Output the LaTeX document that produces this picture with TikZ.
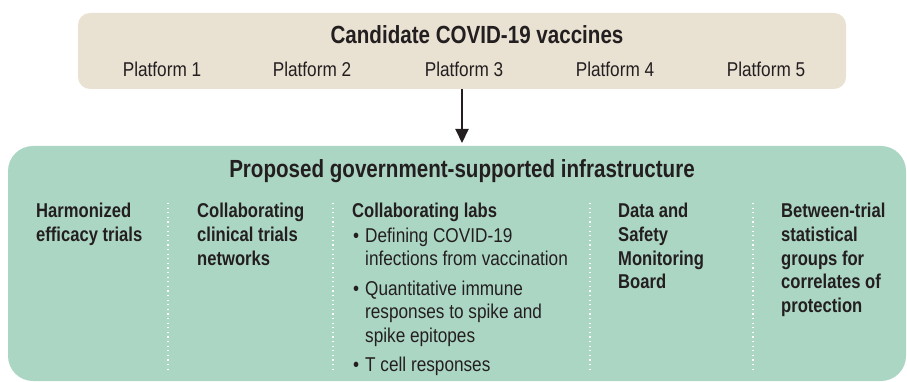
\documentclass[tikz,border=0pt]{standalone}
\usepackage{fontspec}
\setmainfont{Liberation Sans}[FakeStretch=0.86, BoldFeatures={FakeStretch=0.83}]
\usetikzlibrary{arrows.meta}
\definecolor{beige}{HTML}{E9E1D2}
\definecolor{mint}{HTML}{ACD6C4}
\definecolor{ink}{HTML}{231F20}
\tikzset{
  panel/.style={inner sep=0pt, outer sep=0pt},
  ttl/.style={text=ink, inner sep=0pt, anchor=base, font=\fontsize{24.8}{28}\selectfont\bfseries},
  plat/.style={text=ink, inner sep=0pt, anchor=base, font=\fontsize{20}{24}\selectfont},
  bodyb/.style={text=ink, inner sep=0pt, anchor=base west, font=\fontsize{20}{24}\selectfont\bfseries},
  bodyr/.style={text=ink, inner sep=0pt, anchor=base west, font=\fontsize{20}{24}\selectfont},
  sep/.style={white, line width=1.2pt, dash pattern=on 1.2pt off 3.4pt},
  flow/.style={ink, line width=2pt, -{Triangle[width=13pt,length=14pt]}}
}
\begin{document}
\begin{tikzpicture}[x=1pt,y=-1pt]
\useasboundingbox (0,0) rectangle (907,382);
\node[panel, fill=beige, rounded corners=12pt, minimum width=768pt, minimum height=76pt] (top) at (462,51) {};
\node[panel, fill=mint, rounded corners=25pt, minimum width=898pt, minimum height=235pt] (infra) at (457,263.5) {};
\draw[flow, shorten >=3pt] (top.south) -- (top.south |- infra.north);

\node[ttl] (t1) at (477,44) {Candidate COVID-19 vaccines};
\foreach \n/\x in {1/162,2/312,3/464,4/615,5/766}
  \node[plat] (p\n) at (\x,77) {Platform \n};

\node[ttl] (t2) at (462,178) {Proposed government-supported infrastructure};

\foreach \x in {168,333,590,753}
  \draw[sep] (\x,203) -- (\x,372);

\foreach \t [count=\i] in {Harmonized, efficacy trials}
  \node[bodyb] (a\i) at (36,{218+23.6*(\i-1)}) {\t};
\foreach \t [count=\i] in {Collaborating, clinical trials, networks}
  \node[bodyb] (b\i) at (197,{218+23.6*(\i-1)}) {\t};
\node[bodyb] (c0) at (352,218) {Collaborating labs};
\foreach \t/\y [count=\i] in {\textbullet/242, \textbullet/295, \textbullet/371}
  \node[bodyr] (cb\i) at (353,\y) {\t};
\foreach \t/\y [count=\i] in {Defining COVID-19/242, infections from vaccination/265.6, Quantitative immune/295, responses to spike and/318.6, spike epitopes/342.2, T cell responses/371}
  \node[bodyr] (c\i) at (365,\y) {\t};
\foreach \t [count=\i] in {Data and, Safety, Monitoring, Board}
  \node[bodyb] (d\i) at (618,{218+23.6*(\i-1)}) {\t};
\foreach \t [count=\i] in {Between-trial, statistical, groups for, correlates of, protection}
  \node[bodyb] (e\i) at (781,{218+23.6*(\i-1)}) {\t};
\end{tikzpicture}
\end{document}
